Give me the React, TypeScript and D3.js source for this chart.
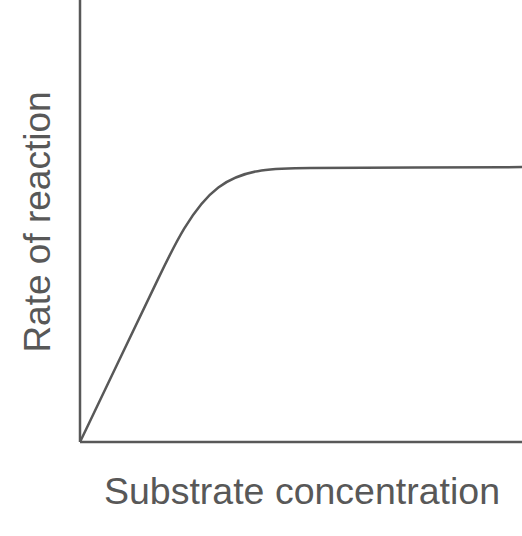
import React from "react";
import * as d3 from "d3";

const xValues = [0, 8.5, 17, 29.7, 52, 76, 100];
const yValues = [0, 17.75, 35.5, 62.0, 62.0, 62.1, 62.2];
const xLabel = "Substrate concentration";
const yLabel = "Rate of reaction";

export default function App() {
  const W = 522, H = 536;
  const left = 80, right = 522, bottom = 442, top = 0;
  const x = d3.scaleLinear().domain([0, 100]).range([left, right]);
  const y = d3.scaleLinear().domain([0, 100]).range([bottom, top]);
  const pts: [number, number][] = xValues.map((v, i) => [v, yValues[i]]);
  const line = d3
    .line<[number, number]>()
    .x((d) => x(d[0]))
    .y((d) => y(d[1]))
    .curve(d3.curveBasis);
  const col = "#585858";
  return (
    <svg width={W} height={H} style={{ position: "absolute", left: 0, top: 0 }}>
      <rect width={W} height={H} fill="#fff" />
      <line x1={left} x2={left} y1={0} y2={bottom} stroke={col} strokeWidth={2.5} />
      <line x1={left} x2={right} y1={bottom} y2={bottom} stroke={col} strokeWidth={2.5} />
      <path d={line(pts) || ""} fill="none" stroke={col} strokeWidth={2.5} />
      <text
        x={302}
        y={504}
        textAnchor="middle"
        fontFamily="Liberation Sans, Arial, sans-serif"
        fontSize={37.5}
        fill={col}
      >
        {xLabel}
      </text>
      <text
        transform="translate(50,222) rotate(-90)"
        textAnchor="middle"
        fontFamily="Liberation Sans, Arial, sans-serif"
        fontSize={37}
        fill={col}
      >
        {yLabel}
      </text>
    </svg>
  );
}
